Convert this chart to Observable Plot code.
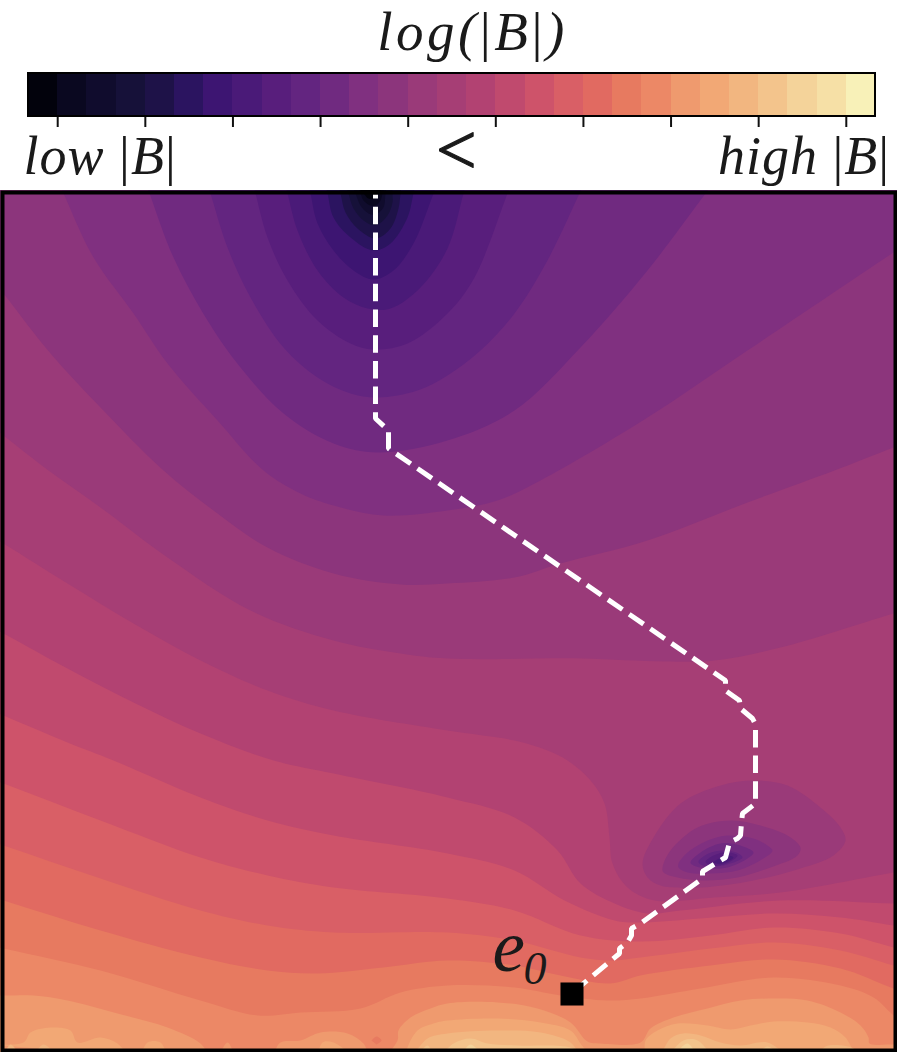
<!DOCTYPE html>
<html>
<head>
<meta charset="utf-8">
<script src="https://cdn.jsdelivr.net/npm/d3@7"></script>
<script src="https://cdn.jsdelivr.net/npm/@observablehq/plot@0.6"></script>
<style>
  html,body{margin:0;padding:0;background:#fff;}
  svg{display:block;overflow:hidden;}
</style>
</head>
<body>
<div id="chart"></div>
<script>
// 29 colour levels of the bar, lowest to highest |B|
const levelColors = ["#02020c","#0a0820","#100c2d","#161139","#1e1248","#2b1460","#3d1572","#4a1a78","#581e7c","#632580","#702a80","#803080","#8c357c","#9a3a79","#a63e75","#b24272","#c04a6e","#ce536a","#d95f66","#e16a61","#e77a60","#ec8866","#ef9a6e","#f2a875","#f2b680","#f3c48c","#f4d39a","#f6e0a6","#f8f1b8"];
const barLevels = d3.range(29);
const barTicks = [1,4,7,10,13,16,19,22,25,28];
const barText = ["low |B|","high |B|"];
const titleText = "log(|B|)";

// Contours as [x, y]; the region beyond each carries the named level.
// Rising-|B| contours: the level fills everything below the line.
const below12 = [[40,140],[63,193],[93,257],[133,313],[167,363],[217,420],[263,470],[300,493],[333,505],[383,515],[447,510],[497,500],[540,480],[647,417],[747,350],[893,252]];
const below13 = [[3,293],[50,353],[100,407],[163,470],[217,513],[267,547],[333,573],[400,584],[447,583],[514,577],[560,563],[647,540],[747,502],[834,470],[893,447]];
const below14 = [[3,435],[48,470],[100,507],[167,557],[250,610],[333,640],[400,653],[447,658],[580,658],[664,661],[714,660],[780,647],[893,613]];
const below15 = [[3,543],[67,583],[133,623],[200,660],[267,690],[333,710],[447,730],[514,740],[547,750],[567,760],[590,780],[604,803],[609,837],[612,863],[627,887],[654,900],[714,897],[780,892],[893,872]];
const below16 = [[3,633],[67,668],[133,702],[200,733],[273,760],[333,773],[447,797],[514,817],[557,850],[580,883],[614,903],[647,913],[680,910],[780,900],[893,903]];
const below17 = [[3,715],[67,742],[113,760],[200,797],[267,820],[333,835],[447,853],[514,870],[564,900],[614,920],[640,922],[700,918],[773,913],[840,917],[893,925]];
const below18 = [[3,783],[100,820],[200,857],[267,875],[333,887],[447,898],[514,910],[580,935],[640,941],[710,935],[773,927],[840,933],[893,947]];
const below19 = [[3,845],[100,878],[200,910],[267,925],[333,932],[447,932],[514,940],[580,957],[610,960],[640,957],[710,948],[773,942],[840,950],[893,965]];
const below20 = [[3,900],[100,930],[200,957],[267,970],[317,973],[383,967],[447,960],[514,965],[560,975],[610,983],[640,975],[710,965],[773,959],[840,968],[893,988]];
const below21 = [[3,948],[100,970],[200,1000],[257,1015],[300,1012],[360,1008],[400,992],[447,985],[514,987],[560,995],[607,1000],[640,998],[700,988],[773,977],[840,985],[873,997],[893,1015]];
const below22 = [[3,995],[33,995],[67,1000],[117,1013],[167,1027],[200,1043],[210,1056],[217,1056],[227,1042],[237,1056],[270,1056],[280,1042],[300,1040],[320,1032],[347,1033],[363,1043],[370,1056],[383,1056],[397,1040],[398,1030],[410,1017],[430,1008],[447,1003],[497,1002],[537,1008],[570,1022],[587,1041],[600,1043],[640,1042],[650,1028],[673,1017],[707,1008],[740,1000],[773,998],[807,1000],[840,1012],[860,1025],[868,1037],[869,1043],[893,1044]];

// Pockets of higher |B| along the bottom edge: [level, points]
const bottomPockets = [
  [20,[[371,1040],[376,1036],[381,1040],[376,1044]]],
  [23,[[-20,1043],[23,1042],[30,1032],[50,1027],[70,1030],[77,1042],[100,1037],[117,1043],[128,1056]]],
  [23,[[140,1056],[147,1042],[160,1042],[167,1056]]],
  [23,[[317,1056],[322,1042],[333,1042],[353,1056]]],
  [23,[[405,1056],[407,1047],[417,1030],[433,1023],[447,1020],[497,1018],[540,1022],[570,1030],[580,1043],[590,1056]]],
  [23,[[645,1056],[645,1040],[657,1030],[677,1023],[707,1025],[730,1029],[750,1025],[773,1021],[807,1022],[830,1027],[845,1037],[855,1056]]],
  [24,[[3,1056],[10,1044],[20,1056]]],
  [24,[[33,1056],[43,1044],[57,1056]]],
  [24,[[412,1056],[427,1038],[447,1033],[497,1030],[540,1032],[570,1042],[580,1056]]],
  [24,[[660,1056],[670,1038],[683,1033],[700,1035],[720,1042],[740,1045],[767,1042],[787,1056]]],
  [24,[[817,1056],[825,1046],[853,1048],[858,1056]]],
  [25,[[417,1056],[427,1045],[433,1056]]],
  [25,[[440,1056],[453,1043],[470,1038],[487,1043],[517,1045],[570,1047],[585,1056]]],
  [25,[[667,1056],[683,1040],[697,1040],[712,1056]]],
  [25,[[755,1056],[767,1046],[780,1056]]],
  [26,[[460,1056],[470,1044],[483,1056]]],
  [26,[[673,1056],[687,1043],[697,1056]]]
];

// Low-|B| lobes hanging from the top edge, outermost first: [level, points]
const topLobes = [
  [10,[[149,193],[173,257],[207,320],[240,367],[283,413],[333,443],[377,452],[447,440],[514,410],[580,347],[647,270],[705,193]]],
  [9,[[210,193],[227,247],[250,297],[283,347],[317,377],[350,393],[377,397],[417,390],[447,375],[480,350],[514,313],[547,260],[579,193]]],
  [8,[[255,193],[267,237],[287,280],[317,320],[350,343],[373,349],[407,343],[447,313],[474,277],[507,193]]],
  [7,[[287,193],[297,230],[317,270],[343,297],[367,308],[390,308],[420,287],[447,248],[463,193]]],
  [6,[[310,193],[317,223],[333,250],[353,270],[373,279],[393,270],[413,243],[433,193]]],
  [5,[[327,193],[333,217],[350,237],[373,250],[390,243],[407,217],[413,193]]],
  [4,[[340,193],[345,212],[357,228],[375,238],[390,228],[398,208],[400,193]]],
  [3,[[348,193],[353,208],[363,220],[375,225],[387,215],[392,202],[392,193]]],
  [2,[[355,193],[360,205],[368,213],[375,214],[383,207],[385,193]]],
  [1,[[360,193],[363,200],[370,205],[375,205],[380,200],[382,193]]],
  [0,[[363,193],[368,198],[375,198],[378,193]]]
];

// Closed low-|B| rings around the second minimum, outermost first: [level, points]
const rings = [
  [13,[[642,863],[653,837],[680,803],[720,785],[753,780],[787,785],[820,807],[840,827],[845,840],[833,855],[800,868],[753,880],[700,887],[660,885],[647,877]]],
  [12,[[662,867],[670,850],[697,827],[730,820],[760,825],[787,835],[800,847],[797,855],[770,867],[737,877],[703,880],[677,877],[663,872]]],
  [11,[[678,863],[687,852],[707,840],[727,835],[753,838],[767,845],[772,850],[763,858],[737,870],[710,873],[687,872],[678,867]]],
  [10,[[690,862],[700,852],[720,843],[740,845],[753,852],[747,858],[727,867],[707,868],[693,865]]],
  [9,[[698,861],[708,853],[723,850],[738,853],[742,857],[727,864],[710,866],[700,864]]],
  [8,[[705,861],[722,852],[737,855],[726,863],[710,865]]],
  [7,[[713,862],[727,855],[733,857],[722,863]]]
];

// Dashed track from the top edge to e0
const trackX = [375,375,388,388,725,725,739,740,752,755,755,742,741,740,737,729,725,702,702,640,631,631,627,619,619,571];
const trackY = [194,418,430,448,680,690,700,708,718,724,803,813,822,835,838,842,857,871,878,923,928,935,942,948,953,993];
const startPoint = {x:571.5, y:993.5, label:"e", sub:"0"};

// ---- assemble tables for the marks ----
const spanning = [[12,below12],[13,below13],[14,below14],[15,below15],[16,below16],[17,below17],[18,below18],[19,below19],[20,below20],[21,below21],[22,below22]];
let id = 0;
const toRows = (level, pts) => { id++; return pts.map(([x,y]) => ({band:id, level, x, y})); };
const slopeY = (a, b, x) => a[1] + (b[1]-a[1]) / (b[0]-a[0]) * (x-a[0]);
const slopeX = (a, b, y) => a[0] + (b[0]-a[0]) / (b[1]-a[1]) * (y-a[1]);
const openRows = [];
// Level 11 underlay
openRows.push(...toRows(11,[[-80,100],[980,100],[980,1130],[-80,1130]]));
for (const [lv,pts] of spanning) {
  const n = pts.length;
  const full = [[-80,slopeY(pts[0],pts[1],-80)],...pts,[980,slopeY(pts[n-2],pts[n-1],980)],[980,1130],[-80,1130]];
  openRows.push(...toRows(lv,full));
}
const pocketRows = bottomPockets.flatMap(([lv,pts]) => toRows(lv,pts));
const lobeRows = topLobes.flatMap(([lv,pts]) => {
  const n = pts.length;
  return toRows(lv,[[slopeX(pts[0],pts[1],175),175],...pts,[slopeX(pts[n-2],pts[n-1],175),175]]);
});
const ringRows = rings.flatMap(([lv,pts]) => toRows(lv,pts));
const track = trackX.map((x,i) => ({x, y:trackY[i]}));

const colorScale = {type:"ordinal", domain:barLevels, range:levelColors};
const serif = "'Liberation Serif','Times New Roman',serif";

const barPlot = Plot.plot({
  width:897, height:190, margin:0,
  x:{domain:[0,29], range:[28,875], axis:null},
  y:{domain:[0,190], range:[0,190], axis:null},
  color:colorScale,
  style:{background:"#fff"},
  marks:[
    Plot.rect(barLevels,{x1:d=>d, x2:d=>d+1, y1:()=>73, y2:()=>116, fill:d=>d, inset:0, shapeRendering:"crispEdges"}),
    Plot.rect([0],{x1:()=>0, x2:()=>29, y1:()=>73, y2:()=>116, fill:"none", stroke:"#000", strokeWidth:2}),
    Plot.ruleX(barTicks,{x:d=>d, y1:()=>117, y2:()=>127, stroke:"#111", strokeWidth:2}),
    Plot.text([titleText],{x:()=>15.2, y:()=>49, text:d=>d, fontFamily:serif, fontStyle:"italic", fontSize:55, fill:"#1a1a1a", textAnchor:"middle", lineAnchor:"bottom"}),
    Plot.text([barText[0]],{x:()=>-0.17, y:()=>173, text:d=>d, fontFamily:serif, fontStyle:"italic", fontSize:54, fill:"#1a1a1a", textAnchor:"start", lineAnchor:"bottom"}),
    Plot.text(["<"],{x:()=>14.65, y:()=>173, text:d=>d, fontFamily:serif, fontSize:72, fill:"#1a1a1a", stroke:"#1a1a1a", strokeWidth:1.2, textAnchor:"middle", lineAnchor:"bottom"}),
    Plot.text([barText[1]],{x:()=>29.5, y:()=>173, text:d=>d, fontFamily:serif, fontStyle:"italic", fontSize:54, fill:"#1a1a1a", textAnchor:"end", lineAnchor:"bottom"})
  ]
});

// The vertical bars of |B| stand upright in the reference
d3.select(barPlot).selectAll("text").each(function() {
  const t = this.textContent;
  if (!t.includes("|")) return;
  this.style.letterSpacing = t === titleText ? "3.5px" : "1px";
  this.textContent = "";
  for (const part of t.split(/(\|)/)) {
    if (!part) continue;
    const s = d3.select(this).append("tspan").text(part);
    if (part === "|") s.attr("font-style","normal");
  }
});

const fieldPlot = Plot.plot({
  width:897, height:862, margin:0,
  x:{domain:[0,897], range:[0,897], axis:null},
  y:{domain:[190,1052], range:[0,862], axis:null},
  color:colorScale,
  style:{background:"#803080"},
  marks:[
    Plot.line(openRows,{x:"x", y:"y", z:"band", fill:"level", stroke:null, curve:"catmull-rom", clip:true}),
    Plot.line(pocketRows,{x:"x", y:"y", z:"band", fill:"level", stroke:null, curve:"catmull-rom", clip:true}),
    Plot.line(lobeRows,{x:"x", y:"y", z:"band", fill:"level", stroke:null, curve:"catmull-rom", clip:true}),
    Plot.line(ringRows,{x:"x", y:"y", z:"band", fill:"level", stroke:null, curve:"catmull-rom-closed", clip:true}),
    Plot.line(track,{x:"x", y:"y", stroke:"#fff", strokeWidth:5, strokeDasharray:"17.5,8.2", strokeDashoffset:13.5, strokeLinejoin:"miter", strokeLinecap:"butt", clip:true}),
    Plot.dot([startPoint],{x:"x", y:"y", symbol:"square", r:13, fill:"#000", stroke:null}),
    Plot.text([startPoint],{x:()=>492, y:()=>970, text:"label", fontFamily:serif, fontStyle:"italic", fontSize:73, fill:"#1a1a1a", textAnchor:"start", lineAnchor:"bottom"}),
    Plot.text([startPoint],{x:()=>523, y:()=>983, text:"sub", fontFamily:serif, fontStyle:"italic", fontSize:46, fill:"#1a1a1a", textAnchor:"start", lineAnchor:"bottom"}),
    Plot.frame({stroke:"#000", strokeWidth:4, inset:2, fill:"none"})
  ]
});

const host = document.getElementById("chart");
host.appendChild(barPlot);
host.appendChild(fieldPlot);
</script>
</body>
</html>
